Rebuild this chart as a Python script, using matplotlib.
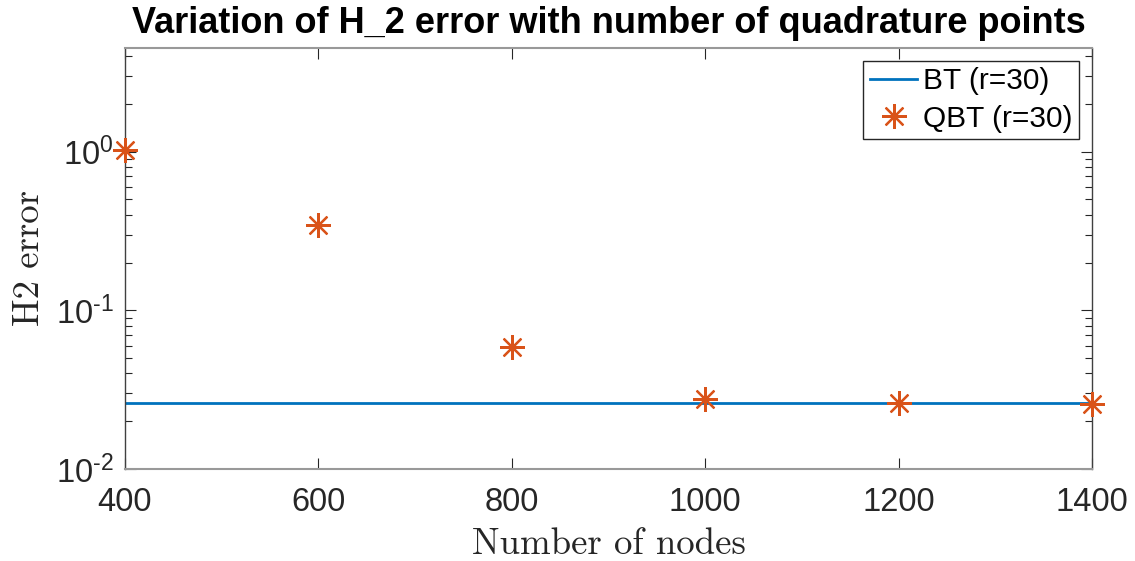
import numpy as np
import matplotlib.pyplot as plt
from matplotlib.ticker import FixedLocator, FuncFormatter, LogLocator, NullFormatter

# values
nodes = [400, 600, 800, 1000, 1200, 1400]
qbt_err = [1.03, 0.347, 0.0587, 0.0276, 0.0262, 0.0258]
bt_err = 0.026
x_ticks = [400, 600, 800, 1000, 1200, 1400]
y_ticks = [1e-2, 1e-1, 1e0]

plt.rcParams['font.family'] = ['Liberation Sans', 'DejaVu Sans']
plt.rcParams['mathtext.fontset'] = 'custom'
plt.rcParams['mathtext.rm'] = 'Liberation Sans'
plt.rcParams['mathtext.it'] = 'Liberation Sans'

blue = '#0072BD'
orange = '#D95319'
dark = '#262626'

fig = plt.figure(figsize=(11.35, 5.61), dpi=100)
ax = fig.add_subplot(111)
fig.subplots_adjust(left=125/1135, right=1092/1135, top=1-48/561, bottom=1-469/561)

ax.plot([nodes[0], nodes[-1]], [bt_err, bt_err], color=blue, lw=2, label='BT (r=30)')
ax.plot(nodes, qbt_err, ls='none', marker=(8, 2, 0), ms=18, mew=1.6,
        color=orange, label='QBT (r=30)', clip_on=False, zorder=3)

ax.set_yscale('log')
ax.set_xlim(400, 1400)
ax.set_ylim(1e-2, 4.5)


def pow_label(v, pos):
    e = int(round(np.log10(v)))
    s = str(e).replace('-', '\N{HYPHEN}')
    return r'$\mathregular{10^{%s}}$' % s


ax.xaxis.set_major_locator(FixedLocator(x_ticks))
ax.yaxis.set_major_locator(FixedLocator(y_ticks))
ax.yaxis.set_minor_locator(LogLocator(base=10, subs=np.arange(2, 10)))
ax.yaxis.set_minor_formatter(NullFormatter())
ax.yaxis.set_major_formatter(FuncFormatter(pow_label))

ax.tick_params(which='both', direction='in', top=True, right=True, colors=dark,
               labelsize=23.5)
ax.tick_params(which='major', length=8, width=0.8)
ax.tick_params(which='minor', length=5, width=0.8)
ax.tick_params(axis='x', pad=13)
ax.tick_params(axis='y', pad=8)

for side in ['top', 'bottom']:
    ax.spines[side].set_color('#999999')
    ax.spines[side].set_linewidth(1.5)
for side in ['left', 'right']:
    ax.spines[side].set_color('#404040')
    ax.spines[side].set_linewidth(1)

ax.set_xlabel('Number of nodes', family='cmr10', fontsize=26.5, color=dark, labelpad=7)
ax.set_ylabel('H2 error', family='cmr10', fontsize=26.5, color=dark, labelpad=7)
ax.set_title('Variation of H_2 error with number of quadrature points',
             fontsize=26, fontweight='bold', pad=11)

leg = ax.legend(loc='upper right', fontsize=21.5, frameon=True, fancybox=False,
                edgecolor=dark, framealpha=1, labelspacing=0.32, borderpad=0.22,
                handlelength=1.6, handletextpad=0.2, borderaxespad=0.42)
leg.get_frame().set_linewidth(1)

fig.savefig('out.png', dpi=100)
